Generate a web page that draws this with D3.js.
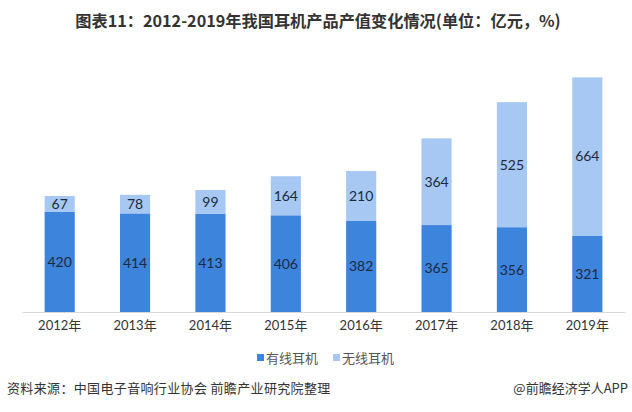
<!DOCTYPE html>
<html><head><meta charset="utf-8">
<script src="https://cdn.jsdelivr.net/npm/d3@7"></script>
<style>body{margin:0;background:#fff}svg{display:block}</style>
</head><body><svg id="c" width="632" height="412"></svg>
<script>
const years = ["2012年","2013年","2014年","2015年","2016年","2017年","2018年","2019年"];
const wired = [420,414,413,406,382,365,356,321];
const wireless = [67,78,99,164,210,364,525,664];
const seriesNames = ["有线耳机","无线耳机"];
const colors = ["#3d84dc","#a6c8f2"];
const title = "图表11：2012-2019年我国耳机产品产值变化情况(单位：亿元，%)";
const source = "资料来源：中国电子音响行业协会 前瞻产业研究院整理";
const brand = "@前瞻经济学人APP";

const svg = d3.select("#c");
const cjk = "'Noto Sans CJK SC','Microsoft YaHei',sans-serif";
const num = "Lato,'Noto Sans CJK SC',sans-serif";

svg.append("text").attr("x",318).attr("y",27).attr("text-anchor","middle")
  .attr("font-family",cjk).attr("font-weight","bold").attr("font-size",16.2)
  .attr("fill","#333").text(title);

const x = d3.scaleBand().domain(years).range([22,625]).paddingInner(0.6).paddingOuter(0.3);
const y = d3.scaleLinear().domain([0,1000]).range([312,73.8]);

const data = years.map((yr,i)=>({year:yr, wired:wired[i], wireless:wireless[i]}));
const stack = d3.stack().keys(["wired","wireless"])(data);

const g = svg.append("g");
stack.forEach((s,si)=>{
  g.selectAll(null).data(s).enter().append("rect")
    .attr("x",d=>x(d.data.year)).attr("width",x.bandwidth())
    .attr("y",d=>y(d[1])).attr("height",d=>y(d[0])-y(d[1]))
    .attr("fill",colors[si]);
  g.selectAll(null).data(s).enter().append("text")
    .attr("x",d=>x(d.data.year)+x.bandwidth()/2)
    .attr("y",d=>(y(d[0])+y(d[1]))/2)
    .attr("dy","0.35em").attr("text-anchor","middle")
    .attr("font-family",num).attr("font-size",14).attr("fill","#1c2a3f")
    .text(d=>d[1]-d[0]);
});

const ax = svg.append("g").attr("transform","translate(0,312)")
  .call(d3.axisBottom(x).tickSize(0).tickPadding(9));
ax.select(".domain").attr("stroke","#d9d9d9");
ax.selectAll("text").attr("font-family",num).attr("font-size",13).attr("fill","#333");

// legend
const lg = svg.append("g");
const lx = [257,333];
seriesNames.forEach((n,i)=>{
  lg.append("rect").attr("x",lx[i]).attr("y",354).attr("width",7).attr("height",7).attr("fill",colors[i]);
  lg.append("text").attr("x",lx[i]+9).attr("y",358).attr("dy","0.35em")
    .attr("font-family",cjk).attr("font-size",13).attr("fill","#555").text(n);
});

svg.append("text").attr("x",7).attr("y",388).attr("dy","0.35em")
  .attr("font-family",cjk).attr("font-size",13).attr("letter-spacing",0.35).attr("fill","#333").text(source);
svg.append("text").attr("x",628).attr("y",388).attr("dy","0.35em").attr("text-anchor","end")
  .attr("font-family",cjk).attr("font-size",13).attr("fill","#333").text(brand);
</script></body></html>
